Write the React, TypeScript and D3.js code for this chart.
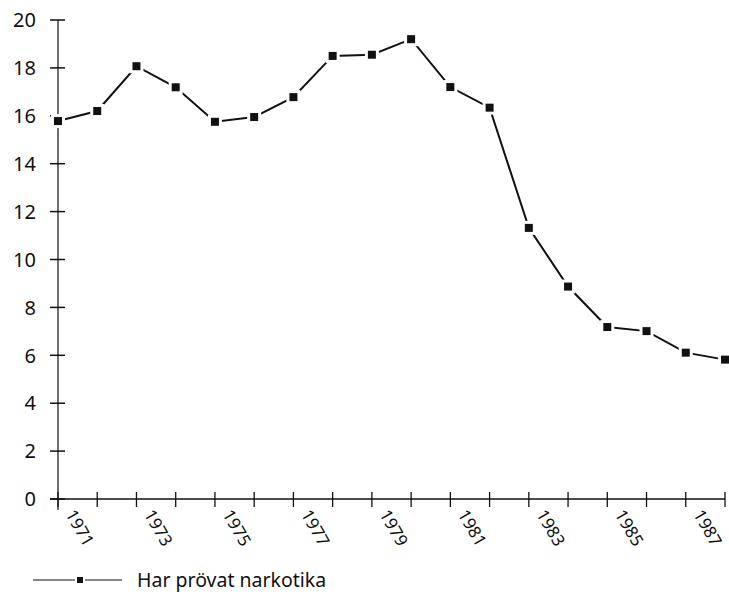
import React from "react";
import * as d3 from "d3";

const years = [1971,1972,1973,1974,1975,1976,1977,1978,1979,1980,1981,1982,1983,1984,1985,1986,1987,1988];
const values = [15.78,16.2,18.07,17.19,15.75,15.95,16.78,18.5,18.55,19.2,17.2,16.34,11.32,8.87,7.18,7.01,6.11,5.82];
const yTicks = [0,2,4,6,8,10,12,14,16,18,20];
const xLabelYears = [1971,1973,1975,1977,1979,1981,1983,1985,1987];
const seriesName = "Har prövat narkotika";

const FONT = "'Noto Sans', 'Open Sans', sans-serif";

export default function App() {
  const x = d3.scaleLinear().domain([1971, 1988]).range([58, 725]);
  const y = d3.scaleLinear().domain([0, 20]).range([499, 20]);
  const line = d3.line<number>().x((_, i) => x(years[i])).y((d) => y(d));
  const ms = 8;
  return (
    <svg width={729} height={597} style={{ position: "absolute", left: 0, top: 0, background: "#fff" }}>
      <rect width={729} height={597} fill="#fff" />
      {/* y axis */}
      <line x1={x(1971)} x2={x(1971)} y1={y(20)} y2={510} stroke="#222" strokeWidth={1.3} />
      {yTicks.map((t) => (
        <g key={t}>
          <line x1={50} x2={65} y1={y(t)} y2={y(t)} stroke="#111" strokeWidth={1.5} />
          <text x={36} y={y(t)} dy="0.36em" textAnchor="end" fontFamily={FONT} fontSize={20} fill="#111">{t}</text>
        </g>
      ))}
      {/* x axis */}
      <line x1={50} x2={x(1988)} y1={y(0)} y2={y(0)} stroke="#111" strokeWidth={1.3} />
      {years.map((yr) => (
        <line key={yr} x1={x(yr)} x2={x(yr)} y1={492} y2={507} stroke="#111" strokeWidth={1.3} />
      ))}
      {xLabelYears.map((yr) => (
        <text key={yr} transform={`translate(${x(yr) + 7},${514}) rotate(60)`} fontFamily={FONT} fontSize={17} fill="#111">{yr}</text>
      ))}
      {/* series */}
      <path d={line(values) || ""} fill="none" stroke="#111" strokeWidth={2} />
      {values.map((v, i) => (
        <g key={i}>
          <rect x={x(years[i]) - 7} y={y(v) - 7} width={14} height={14} fill="#fff" />
          <rect x={x(years[i]) - ms / 2} y={y(v) - ms / 2} width={ms} height={ms} fill="#111" />
        </g>
      ))}
      {/* legend */}
      <line x1={33} x2={75} y1={580} y2={580} stroke="#111" strokeWidth={1.2} />
      <line x1={85} x2={122} y1={580} y2={580} stroke="#111" strokeWidth={1.2} />
      <rect x={77} y={577} width={6} height={6} fill="#111" />
      <text x={137} y={580} dy="0.36em" fontFamily={FONT} fontSize={19.5} fill="#111">{seriesName}</text>
    </svg>
  );
}
